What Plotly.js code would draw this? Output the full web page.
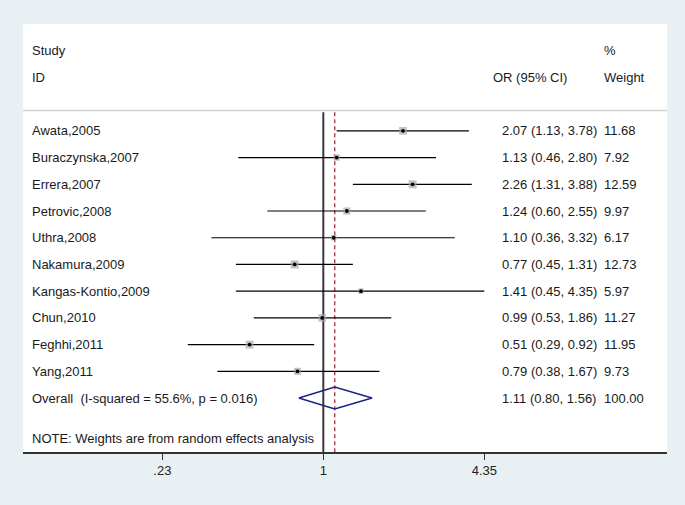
<!DOCTYPE html>
<html>
<head>
<meta charset="utf-8">
<script src="https://cdn.plot.ly/plotly-3.0.1.min.js"></script>
<style>html,body{margin:0;padding:0;background:#e9f0f3;}#chart{width:685px;height:505px;}</style>
</head>
<body>
<div id="chart"></div>
<script>
// ---- data ----
const studies = ["Awata,2005","Buraczynska,2007","Errera,2007","Petrovic,2008","Uthra,2008",
  "Nakamura,2009","Kangas-Kontio,2009","Chun,2010","Feghhi,2011","Yang,2011"];
const orValues = [2.07,1.13,2.26,1.24,1.10,0.77,1.41,0.99,0.51,0.79];
const ciLow   = [1.13,0.46,1.31,0.60,0.36,0.45,0.45,0.53,0.29,0.38];
const ciHigh  = [3.78,2.80,3.88,2.55,3.32,1.31,4.35,1.86,0.92,1.67];
const weights = [11.68,7.92,12.59,9.97,6.17,12.73,5.97,11.27,11.95,9.73];
const overallLabel = "Overall  (I-squared = 55.6%, p = 0.016)";
const overallOR = 1.11, overallLow = 0.80, overallHigh = 1.56, overallWeight = 100.00;
const noteText = "NOTE: Weights are from random effects analysis";
const tickVals = [1/4.35, 1, 4.35];
const tickText = [".23", "1", "4.35"];

// ---- layout helpers ----
const FONT = "Liberation Sans, Arial, Helvetica, sans-serif";
const rows = studies.map((s,i)=>i+1);
const overallRow = studies.length + 1;
const noteRow = overallRow + 1.5;
const yBottom = 13.02, yTop = -3.0, lineTop = 0.3;

const traces = [];
// reference line at 1
traces.push({x:[1,1], y:[lineTop,yBottom], mode:'lines', line:{color:'#3a3a3a', width:2}, hoverinfo:'skip'});
// overall dashed line
traces.push({x:[overallOR,overallOR], y:[lineTop,yBottom], mode:'lines', line:{color:'#a3303c', width:1.3, dash:'4px,3px'}, hoverinfo:'skip'});
// CI lines
const cx = [], cy = [];
rows.forEach((r,i)=>{ cx.push(ciLow[i], ciHigh[i], null); cy.push(r, r, null); });
traces.push({x:cx, y:cy, mode:'lines', line:{color:'#000', width:1.2}, hoverinfo:'skip'});
// weight boxes
traces.push({x:orValues, y:rows, mode:'markers', marker:{symbol:'square', color:'#a8a8a8', size:weights.map(w=>2.25*Math.sqrt(w)), line:{width:0}}, hoverinfo:'skip'});
// point estimates
traces.push({x:orValues, y:rows, mode:'markers', marker:{symbol:'circle', color:'#000', size:3.8}, hoverinfo:'skip'});
// overall diamond
const dh = 0.41;
traces.push({x:[overallLow, overallOR, overallHigh, overallOR, overallLow],
  y:[overallRow, overallRow-dh, overallRow, overallRow+dh, overallRow],
  mode:'lines', line:{color:'#1a237e', width:1.5}, hoverinfo:'skip'});

// ---- text annotations ----
const ann = [];
function txt(x, y, t){ ann.push({xref:'paper', yref:'y', x:x, y:y, text:t, showarrow:false, xanchor:'left', yanchor:'middle', font:{family:FONT, size:13, color:'#1a1a1a'}}); }
const xName = 0.0108, xCI = 0.7405, xW = 0.899, xORhead = 0.7265;
txt(xName, -2, "Study");
txt(xName, -1, "ID");
txt(xORhead, -1, "OR (95% CI)");
txt(xW, -2, "%");
txt(xW, -1, "Weight");
rows.forEach((r,i)=>{
  txt(xName, r, studies[i]);
  txt(xCI, r, orValues[i].toFixed(2)+" ("+ciLow[i].toFixed(2)+", "+ciHigh[i].toFixed(2)+")");
  txt(xW, r, weights[i].toFixed(2));
});
txt(xName, overallRow, overallLabel);
txt(xCI, overallRow, overallOR.toFixed(2)+" ("+overallLow.toFixed(2)+", "+overallHigh.toFixed(2)+")");
txt(xW, overallRow, overallWeight.toFixed(2));
txt(xName, noteRow, noteText);

const layout = {
  width:685, height:505,
  margin:{l:23, r:18, t:24, b:53, pad:0},
  paper_bgcolor:'#e9f0f3', plot_bgcolor:'#ffffff',
  showlegend:false,
  font:{family:FONT, size:13, color:'#1a1a1a'},
  xaxis:{type:'log', range:[-1.191, 1.363], autorange:false, showgrid:false, zeroline:false,
    showline:true, linecolor:'#333', linewidth:1.5, ticks:'outside', ticklen:6, tickwidth:1.3, tickcolor:'#333',
    tickvals:tickVals, ticktext:tickText, tickfont:{family:FONT, size:13, color:'#222'}, fixedrange:true},
  yaxis:{range:[yBottom, yTop], autorange:false, visible:false, fixedrange:true},
  shapes:[{type:'line', xref:'paper', yref:'y', x0:0, x1:1, y0:0.24, y1:0.24, line:{color:'#cfcfcf', width:1.5}}],
  annotations:ann
};
Plotly.newPlot('chart', traces, layout, {staticPlot:true});
</script>
</body>
</html>
